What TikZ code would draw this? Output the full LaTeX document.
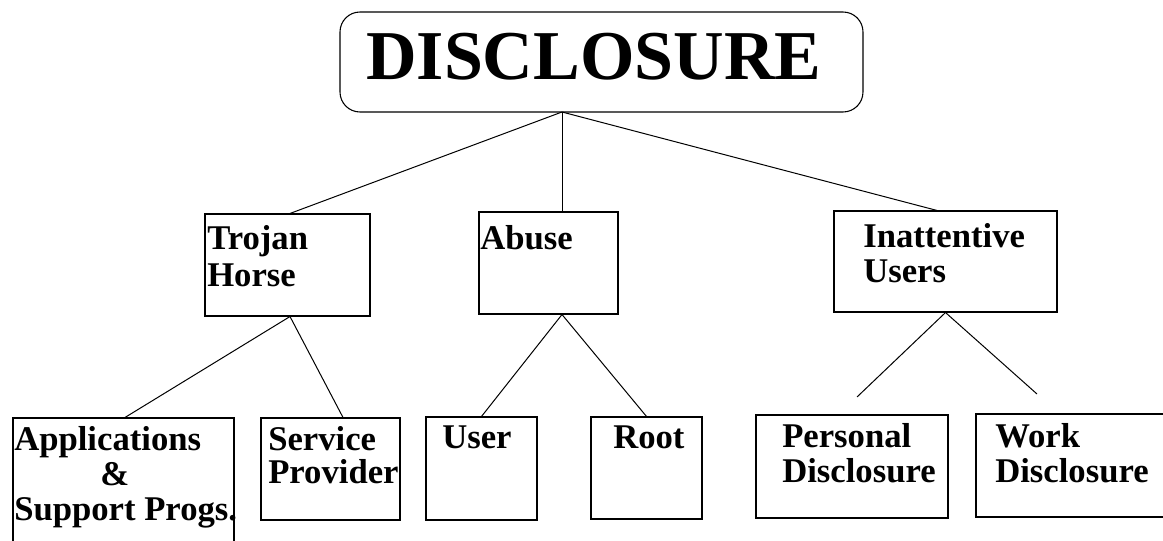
\documentclass[tikz,border=0pt]{standalone}
\usepackage{fontspec}
\setmainfont{Liberation Serif}
\usetikzlibrary{calc}
\tikzset{
  box/.style={draw, line width=0.8pt, rectangle, inner sep=0pt},
  topbox/.style={draw, line width=0.8pt, rectangle, rounded corners=15pt, inner sep=0pt},
  lbl/.style={anchor=base west, inner sep=0pt, font=\bfseries\fontsize{26}{30}\selectfont},
  biglbl/.style={anchor=base west, inner sep=0pt, font=\bfseries\fontsize{52.5}{60}\selectfont},
  conn/.style={line width=0.75pt}
}
\begin{document}
\begin{tikzpicture}[x=0.75pt,y=-0.75pt]
\useasboundingbox (0,0) rectangle (1163,541);
\clip (0,0) rectangle (1163,541);
% boxes
\node[topbox, minimum width=392.25pt, minimum height=75pt] (top) at (601.5,62) {};
\node[box, minimum width=123.75pt, minimum height=76.5pt] (trojan) at (287.5,265) {};
\node[box, minimum width=104.25pt, minimum height=76.5pt] (abuse) at (548.5,263) {};
\node[box, minimum width=167.25pt, minimum height=75.75pt] (inatt) at (945.5,261.5) {};
\node[box, minimum width=165.75pt, minimum height=106.5pt] (apps) at (123.5,489) {};
\node[box, minimum width=104.25pt, minimum height=76.5pt] (service) at (330.5,469) {};
\node[box, minimum width=83.25pt, minimum height=77.25pt] (user) at (481.5,468.5) {};
\node[box, minimum width=83.25pt, minimum height=76.5pt] (root) at (646.5,468) {};
\node[box, minimum width=144pt, minimum height=77.25pt] (personal) at (852,466.5) {};
\node[box, minimum width=168pt, minimum height=77.25pt] (work) at (1088,465.5) {};
% texts
\node[biglbl] (ttop) at (366,80) {DISCLOSURE};
\node[lbl] (ttro1) at (207,250) {Trojan};
\node[lbl] (ttro2) at (207,287) {Horse};
\node[lbl] (tabu) at (480,250) {Abuse};
\node[lbl] (tina1) at (863,248) {Inattentive};
\node[lbl] (tina2) at (863,283) {Users};
\node[lbl] (tapp1) at (14,450) {Applications};
\node[lbl] (tapp2) at (100,485) {\&};
\node[lbl] (tapp3) at (14,520) {Support Progs.};
\node[lbl] (tser1) at (268,450) {Service};
\node[lbl] (tser2) at (268,483) {Provider};
\node[lbl] (tuse) at (442,448) {User};
\node[lbl] (troo) at (613,448) {Root};
\node[lbl] (tper1) at (782,447) {Personal};
\node[lbl] (tper2) at (782,482) {Disclosure};
\node[lbl] (twor1) at (995,447) {Work};
\node[lbl] (twor2) at (995,482) {Disclosure};
% connector points
\coordinate (c0) at (562,112);
\coordinate (pe) at (857,397);
\coordinate (we) at (1037,394);
% connectors
\draw[conn] (c0) -- ($(trojan.north)+(2.5,0)$);
\draw[conn] (c0) -- (c0 |- abuse.north);
\draw[conn] (c0) -- ($(inatt.north)+(-8.5,0)$);
\draw[conn] ($(trojan.south)+(2.5,0)$) -- ($(apps.north)+(1.5,0)$);
\draw[conn] ($(trojan.south)+(2.5,0)$) -- ($(service.north)+(12.5,0)$);
\draw[conn] ($(abuse.south)+(13.5,0)$) -- (user.north);
\draw[conn] ($(abuse.south)+(13.5,0)$) -- (root.north);
\draw[conn] (inatt.south) -- (pe);
\draw[conn] (inatt.south) -- (we);
\end{tikzpicture}
\end{document}
